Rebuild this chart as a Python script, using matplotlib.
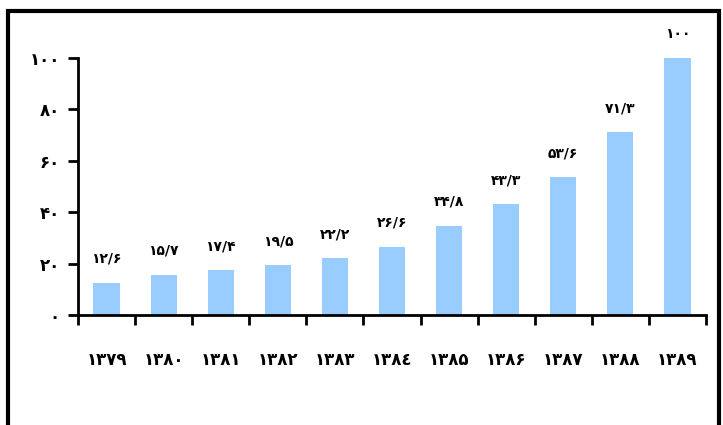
import matplotlib
matplotlib.use("Agg")
import matplotlib.pyplot as plt
from matplotlib.patches import Rectangle

years = ["۱۳۷۹", "۱۳۸۰", "۱۳۸۱", "۱۳۸۲", "۱۳۸۳", "۱۳۸٤", "۱۳۸۵", "۱۳۸۶", "۱۳۸۷", "۱۳۸۸", "۱۳۸۹"]
values = [12.6, 15.7, 17.4, 19.5, 22.2, 26.6, 34.8, 43.3, 53.6, 71.3, 100]
value_labels = ["۱۲/۶", "۱۵/۷", "۱۷/۴", "۱۹/۵", "۲۲/۲", "۲۶/۶", "۳۴/۸", "۴۳/۳", "۵۳/۶", "۷۱/۳", "۱۰۰"]
y_ticks = [0, 20, 40, 60, 80, 100]
y_tick_labels = ["۰", "۲۰", "۴۰", "۶۰", "۸۰", "۱۰۰"]

plt.rcParams['font.family'] = ['DejaVu Sans']

W, H = 723, 425
fig = plt.figure(figsize=(W / 100, H / 100), dpi=100)
ax = fig.add_axes([78 / W, 1 - 315 / H, (706 - 78) / W, (315 - 58) / H])

x = list(range(len(years)))
ax.bar(x, values, width=0.46, color="#99CCFF", zorder=2)

for xi, v, lab in zip(x, values, value_labels):
    ax.annotate(lab, (xi, v), xytext=(0, 12), textcoords="offset points",
                ha="center", va="bottom", fontsize=10, fontweight="bold")

ax.set_xlim(-0.5, len(years) - 0.5)
ax.set_ylim(0, 100)
ax.set_yticks(y_ticks)
ax.set_yticklabels(y_tick_labels, fontsize=12, fontweight="bold")

# ticks between categories, labels centred under bars
ax.set_xticks([i + 0.5 for i in x[:-1]] + [-0.5, len(years) - 0.5])
ax.set_xticklabels([])
ax.set_xticks(x, minor=True)
ax.set_xticklabels(years, minor=True, fontsize=12, fontweight="bold")
ax.tick_params(axis="x", which="minor", length=0, pad=26)
ax.tick_params(axis="x", which="major", length=7, width=2, direction="out")
ax.tick_params(axis="y", length=7, width=2, direction="out", pad=6)

for s in ["top", "right"]:
    ax.spines[s].set_visible(False)
for s in ["left", "bottom"]:
    ax.spines[s].set_linewidth(2)

# thick frame around the chart
fig.patches.append(Rectangle((8 / W, -0.1), (719 - 8) / W, 1.1 - 11 / H,
                             transform=fig.transFigure, fill=False,
                             edgecolor="black", linewidth=3))

fig.savefig("out.png", dpi=100)
